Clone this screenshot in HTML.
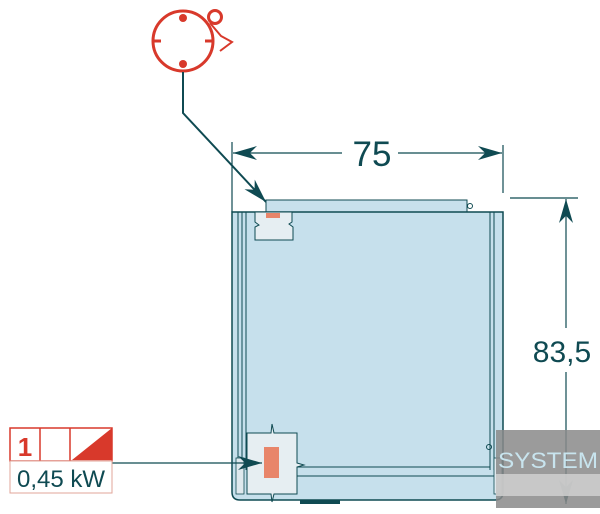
<!DOCTYPE html>
<html><head><meta charset="utf-8"><style>
html,body{margin:0;padding:0;background:#fff;width:600px;height:514px;overflow:hidden}
svg{display:block}
text{font-family:"Liberation Sans",Arial,sans-serif}
</style></head><body>
<svg width="600" height="514" viewBox="0 0 600 514" xmlns="http://www.w3.org/2000/svg">
<defs>
<marker id="ahb" viewBox="0 0 10 10" refX="10" refY="5" markerWidth="24" markerHeight="14" preserveAspectRatio="none" orient="auto-start-reverse" markerUnits="userSpaceOnUse">
<path d="M0,0 L10,5 L0,10 L3,5 z" fill="#0f4a52"/></marker>
</defs>
<!-- red socket symbol -->
<g stroke="#d8392b" stroke-width="3" fill="none">
<circle cx="183" cy="41" r="30"/>
<circle cx="215" cy="17" r="6.5"/>
<path d="M210,23 L221,36 L232,42 L220,51" stroke-width="2"/>
<line x1="153" y1="41" x2="161" y2="41"/><line x1="205" y1="41" x2="213" y2="41"/>
</g>
<circle cx="183" cy="18" r="4" fill="#d8392b"/><circle cx="183" cy="64" r="4" fill="#d8392b"/>
<!-- leader -->
<polyline points="183,72 183,113 266,202" fill="none" stroke="#0f4a52" stroke-width="2" marker-end="url(#ahb)"/>
<!-- dims -->
<g stroke="#0f4a52" stroke-width="1.2">
<line x1="232" y1="142" x2="232" y2="212"/><line x1="503" y1="145" x2="503" y2="193"/>
<line x1="233" y1="153" x2="342" y2="153" marker-start="url(#ahb)"/>
<line x1="398" y1="153" x2="502" y2="153" marker-end="url(#ahb)"/>
<line x1="510" y1="198" x2="578" y2="198"/>
<line x1="566" y1="199" x2="566" y2="328" marker-start="url(#ahb)"/>
<line x1="566" y1="372" x2="566" y2="504" marker-end="url(#ahb)"/>
</g>
<text x="372" y="166" font-size="35" fill="#0f4a52" text-anchor="middle">75</text>
<text x="562" y="362" font-size="30" fill="#0f4a52" text-anchor="middle">83,5</text>
<!-- lid -->
<rect x="266" y="200" width="201" height="12" fill="#c8e0ec" stroke="#0f4a52" stroke-width="1"/>
<circle cx="470" cy="206" r="2.5" fill="none" stroke="#0f4a52"/>
<!-- cabinet -->
<path d="M232,212 H503 V492 Q503,500 495,500 H240 Q232,500 232,492 Z" fill="#c6e0ec" stroke="#0f4a52" stroke-width="1.5"/>
<g stroke="#0f4a52" stroke-width="1" fill="none">
<line x1="238" y1="212" x2="238" y2="470"/><line x1="242" y1="212" x2="242" y2="470"/><line x1="246" y1="212" x2="246" y2="470"/>
<line x1="490" y1="212" x2="490" y2="470"/><line x1="494" y1="212" x2="494" y2="470"/>
<line x1="297" y1="467" x2="490" y2="467"/><line x1="297" y1="476" x2="500" y2="476"/>
<circle cx="489" cy="447" r="2.5"/>
</g>
<rect x="236" y="458" width="8" height="36" fill="#dfe9ee" stroke="#0f4a52" stroke-width="0.8"/>
<rect x="494" y="458" width="8" height="36" fill="#dfe9ee" stroke="#0f4a52" stroke-width="0.8"/>
<rect x="300" y="500" width="40" height="4" fill="#0f4a52"/>
<!-- top cutout -->
<path d="M255,212 H292 V222 L289,224 L293,227 V240 H255 V227 L259,225 L255,222 Z" fill="#e6eef2" stroke="#0f4a52" stroke-width="1"/>
<rect x="266" y="213" width="14" height="5" fill="#e8856a"/>
<!-- bottom cutout -->
<path d="M247,433 H271 L272,424 L274,433 H297 V463 L304,465 L297,467 V494 H274 L272,502 L271,494 H247 Z" fill="#e6eef2" stroke="#0f4a52" stroke-width="1"/>
<rect x="264" y="447" width="15" height="31" fill="#e8856a"/>
<line x1="100" y1="463" x2="262" y2="463" stroke="#0f4a52" stroke-width="1.2" marker-end="url(#ahb)"/>
<!-- power box -->
<rect x="10" y="428" width="102" height="33" fill="#fff" stroke="#d8392b" stroke-width="1.5"/>
<line x1="40" y1="428" x2="40" y2="461" stroke="#d8392b" stroke-width="1.5"/>
<line x1="70" y1="428" x2="70" y2="461" stroke="#d8392b" stroke-width="1.5"/>
<polygon points="72,460 112,428 112,460" fill="#d8392b"/>
<text x="25" y="456" font-size="26" font-weight="bold" fill="#d8392b" text-anchor="middle">1</text>
<rect x="10" y="461" width="102" height="32" fill="#fff" stroke="#e0a59a" stroke-width="1"/>
<text x="61" y="487" font-size="24" fill="#0f4a52" text-anchor="middle">0,45 kW</text>
<!-- watermark -->
<rect x="496" y="430" width="104" height="78" fill="#8a8a8a" opacity="0.85"/>
<rect x="496" y="474" width="104" height="22" fill="#d0d0d0" opacity="0.85"/>
<text x="548" y="468" font-size="22" fill="#c8e4ee" text-anchor="middle" font-family="Liberation Mono" textLength="100" lengthAdjust="spacingAndGlyphs">SYSTEM</text>
</svg>
</body></html>
